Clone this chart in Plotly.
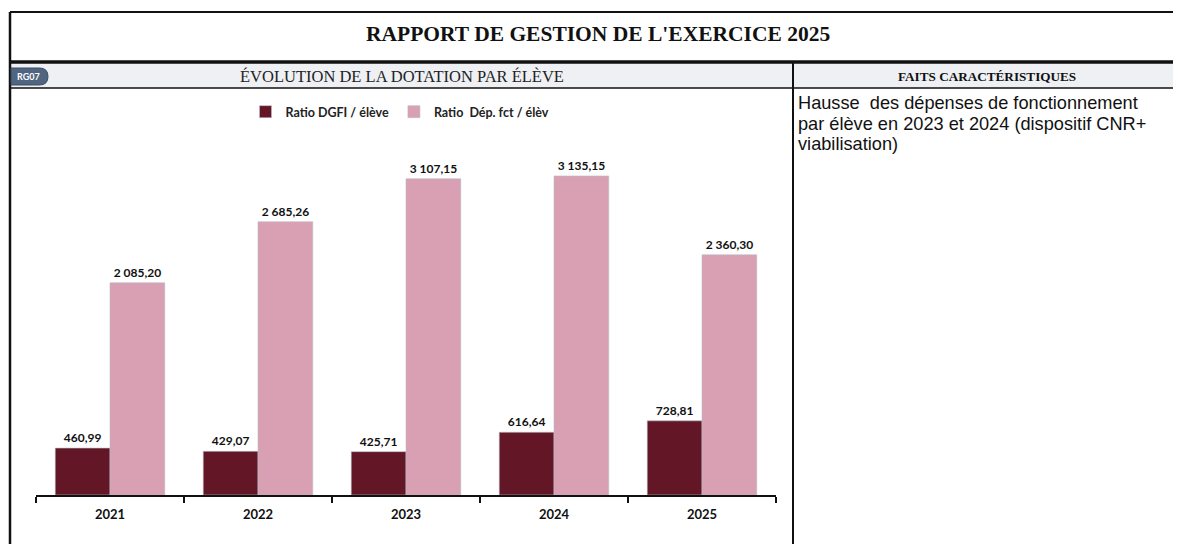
import plotly.graph_objects as go

# page body keeps an 8px margin, so the figure is shrunk and coordinates shifted
OFF = 8
W, H = 1181 - OFF, 544 - OFF

years = ["2021", "2022", "2023", "2024", "2025"]
ratio_dgfi = [460.99, 429.07, 425.71, 616.64, 728.81]
ratio_dep_fct = [2085.20, 2685.26, 3107.15, 3135.15, 2360.30]

title_text = "RAPPORT DE GESTION DE L'EXERCICE 2025"
chart_title = "ÉVOLUTION DE LA DOTATION PAR ÉLÈVE"
side_title = "FAITS CARACTÉRISTIQUES"
side_lines = [
    "Hausse  des dépenses de fonctionnement",
    "par élève en 2023 et 2024 (dispositif CNR+",
    "viabilisation)",
]


def px(x):
    return (x - OFF) / W


def py(y):
    return 1 - (y - OFF) / H


fig = go.Figure()
fig.add_trace(go.Bar(
    x=years, y=ratio_dgfi, name="Ratio DGFI / élève",
    marker=dict(color="#621626", line=dict(color="#b9bcc8", width=0.6)),
    texttemplate="%{y:,.2f}", textposition="outside",
    textfont=dict(family="Lato", size=12, color="#111", weight="bold"),
    cliponaxis=False,
))
fig.add_trace(go.Bar(
    x=years, y=ratio_dep_fct, name="Ratio&nbsp; Dép. fct / élèv",
    marker=dict(color="#d9a0b3", line=dict(color="#b9bcc8", width=0.6)),
    texttemplate="%{y:,.2f}", textposition="outside",
    textfont=dict(family="Lato", size=12, color="#111", weight="bold"),
    cliponaxis=False,
))

shapes = []
# header backgrounds
shapes.append(dict(type="rect", xref="paper", yref="paper",
                   x0=px(10), x1=px(1181), y0=py(63), y1=py(88),
                   fillcolor="#eef0f4", line=dict(width=0), layer="below"))
# borders
line_specs = [
    (10, 12, 1181, 12, 2),
    (10, 12, 10, 544, 2.5),
    (10, 62, 1181, 62, 3.5),
    (10, 88, 1181, 88, 1.5),
    (793, 62, 793, 544, 2),
]
for x0, y0, x1, y1, w in line_specs:
    shapes.append(dict(type="line", xref="paper", yref="paper",
                       x0=px(x0), y0=py(y0), x1=px(x1), y1=py(y1),
                       line=dict(color="#111", width=w)))

# RG07 pill badge
bx0, bx1, by0, by1 = 11, 48, 68, 85
r = (by1 - by0) / 2
path = (f"M {px(bx0)},{py(by0)} L {px(bx1 - r)},{py(by0)} "
        f"Q {px(bx1)},{py(by0)} {px(bx1)},{py(by0 + r)} "
        f"Q {px(bx1)},{py(by1)} {px(bx1 - r)},{py(by1)} "
        f"L {px(bx0)},{py(by1)} Z")
shapes.append(dict(type="path", xref="paper", yref="paper", path=path,
                   fillcolor="#4f6580", line=dict(color="#3b4d66", width=1)))

annotations = [
    dict(text=f"<b>{title_text}</b>", x=px(598), y=py(34), xref="paper", yref="paper",
         showarrow=False, xanchor="center", yanchor="middle",
         font=dict(family="Liberation Serif", size=21.5, color="#111")),
    dict(text=chart_title, x=px(402), y=py(76), xref="paper", yref="paper",
         showarrow=False, xanchor="center", yanchor="middle",
         font=dict(family="Liberation Serif", size=16.5, color="#222")),
    dict(text=f"<b>{side_title}</b>", x=px(987), y=py(76), xref="paper", yref="paper",
         showarrow=False, xanchor="center", yanchor="middle",
         font=dict(family="Liberation Serif", size=13.2, color="#111")),
    dict(text="<b>RG07</b>", x=px(28), y=py(76.5), xref="paper", yref="paper",
         showarrow=False, xanchor="center", yanchor="middle",
         font=dict(family="Lato", size=9, color="white")),
]
for i, line in enumerate(side_lines):
    annotations.append(dict(
        text=line, x=px(796), y=py(103 + i * 20.5), xref="paper", yref="paper",
        showarrow=False, xanchor="left", yanchor="middle",
        font=dict(family="Liberation Sans", size=18.2, color="#111")))

fig.update_layout(
    width=W, height=H,
    margin=dict(l=0, r=0, t=0, b=0),
    paper_bgcolor="white", plot_bgcolor="white",
    separators=", ",
    barmode="group", bargap=0.26, bargroupgap=0,
    showlegend=True,
    legend=dict(orientation="h", x=px(400), y=py(112), xanchor="center", yanchor="middle",
                font=dict(family="Lato", size=12.5, color="#222", weight="bold"),
                itemwidth=30, traceorder="normal"),
    xaxis=dict(domain=[px(36), px(776)], showline=True, linecolor="#111", linewidth=2,
               ticks="outside", tickson="boundaries", ticklen=6, tickcolor="#111", tickwidth=1.5,
               tickfont=dict(family="Lato", size=13, color="#111", weight="bold"),
               ticklabelstandoff=6, showgrid=False, zeroline=False),
    yaxis=dict(domain=[py(495), py(150)], range=[0, 3390], visible=False, showgrid=False),
    shapes=shapes,
    annotations=annotations,
)

fig.write_html("out.html")
